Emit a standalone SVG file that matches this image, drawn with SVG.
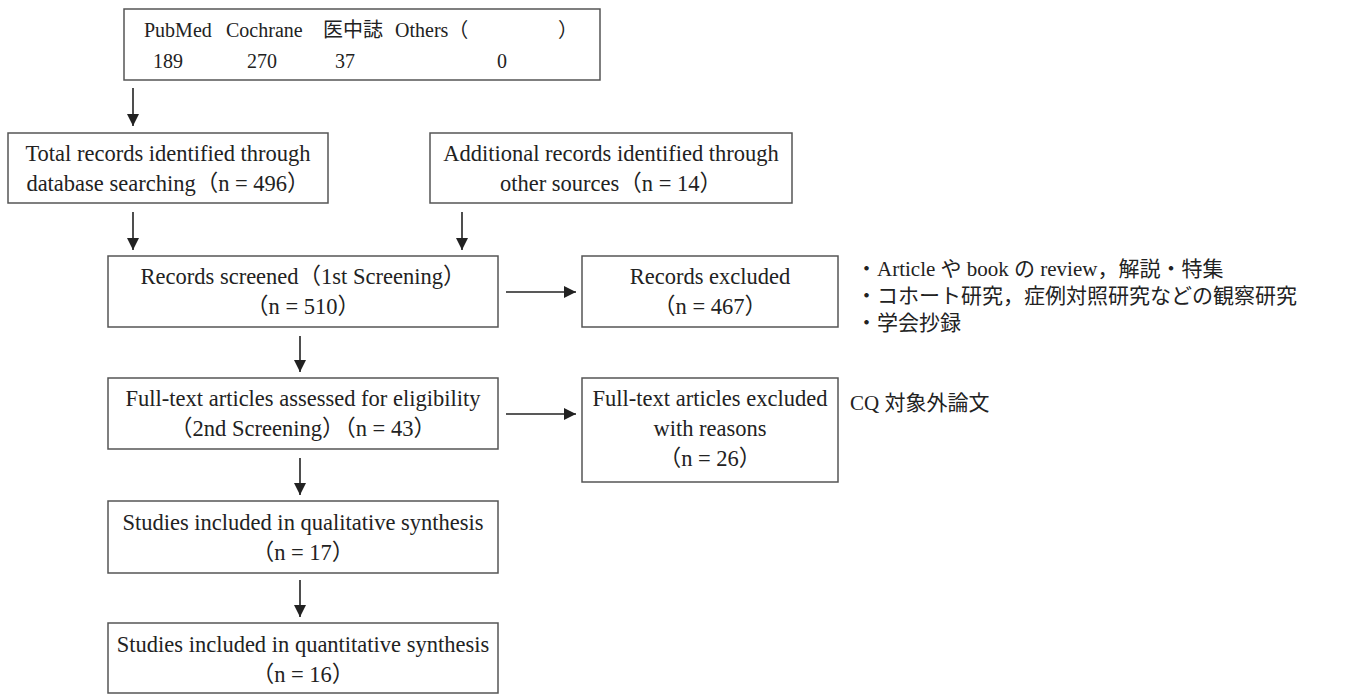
<svg xmlns="http://www.w3.org/2000/svg" width="1346" height="695" viewBox="0 0 1346 695">
<style>
.box{fill:#fff;stroke:#555;stroke-width:1.5}
.t{font-family:"Liberation Serif","Noto Sans CJK JP",serif;font-size:22.5px;fill:#222;text-anchor:middle}
.s{font-family:"Liberation Serif","Noto Sans CJK JP",serif;font-size:20px;fill:#222}
.n{font-family:"Liberation Serif","Noto Sans CJK JP",sans-serif;font-size:21px;fill:#222}
.c{stroke:#222;stroke-width:1.6;fill:none;marker-end:url(#ah)}
</style>
<defs>
<marker id="ah" viewBox="0 0 12 12" refX="12" refY="6" markerWidth="12" markerHeight="12" markerUnits="userSpaceOnUse" orient="auto">
<path d="M0,0 L12,6 L0,12 Z" fill="#222"/>
</marker>
</defs>
<rect width="1346" height="695" fill="#fff"/>
<g id="sources">
<rect class="box" x="124" y="9" width="476" height="71"/>
<text class="s" x="144" y="37">PubMed</text>
<text class="s" x="226" y="37">Cochrane</text>
<text class="s" x="323" y="37">医中誌</text>
<text class="s" x="395" y="37">Others（</text>
<text class="s" x="558" y="37">）</text>
<text class="s" x="168" y="68" text-anchor="middle">189</text>
<text class="s" x="262" y="68" text-anchor="middle">270</text>
<text class="s" x="345" y="68" text-anchor="middle">37</text>
<text class="s" x="502" y="68" text-anchor="middle">0</text>
</g>
<g id="total">
<rect class="box" x="8" y="133" width="320" height="70"/>
<text class="t" x="168" y="161">Total records identified through</text>
<text class="t" x="168" y="191">database searching（n = 496）</text>
</g>
<g id="additional">
<rect class="box" x="430" y="133" width="362" height="70"/>
<text class="t" x="611" y="161">Additional records identified through</text>
<text class="t" x="611" y="191">other sources（n = 14）</text>
</g>
<g id="screened">
<rect class="box" x="108" y="256" width="390" height="71"/>
<text class="t" x="303" y="284">Records screened（1st Screening）</text>
<text class="t" x="303" y="314">（n = 510）</text>
</g>
<g id="excluded">
<rect class="box" x="582" y="256" width="256" height="71"/>
<text class="t" x="710" y="284">Records excluded</text>
<text class="t" x="710" y="314">（n = 467）</text>
</g>
<g id="excluded-notes">
<text class="n" x="856" y="276">・Article や book の review，解説・特集</text>
<text class="n" x="856" y="303">・コホート研究，症例対照研究などの観察研究</text>
<text class="n" x="856" y="330">・学会抄録</text>
</g>
<g id="fulltext">
<rect class="box" x="108" y="378" width="390" height="71"/>
<text class="t" x="303" y="406">Full-text articles assessed for eligibility</text>
<text class="t" x="303" y="436">（2nd Screening）（n = 43）</text>
</g>
<g id="fulltext-excluded">
<rect class="box" x="582" y="378" width="256" height="104"/>
<text class="t" x="710" y="406">Full-text articles excluded</text>
<text class="t" x="710" y="436">with reasons</text>
<text class="t" x="710" y="466">（n = 26）</text>
</g>
<g id="cq-note">
<text class="n" x="850" y="410">CQ 対象外論文</text>
</g>
<g id="qualitative">
<rect class="box" x="108" y="501" width="390" height="72"/>
<text class="t" x="303" y="530">Studies included in qualitative synthesis</text>
<text class="t" x="303" y="560">（n = 17）</text>
</g>
<g id="quantitative">
<rect class="box" x="108" y="623" width="390" height="70"/>
<text class="t" x="303" y="652">Studies included in quantitative synthesis</text>
<text class="t" x="303" y="682">（n = 16）</text>
</g>
<g id="connectors">
<line class="c" x1="133" y1="88" x2="133" y2="126"/>
<line class="c" x1="133" y1="212" x2="133" y2="250"/>
<line class="c" x1="462" y1="212" x2="462" y2="250"/>
<line class="c" x1="506" y1="292" x2="576" y2="292"/>
<line class="c" x1="300" y1="336" x2="300" y2="372"/>
<line class="c" x1="506" y1="414" x2="576" y2="414"/>
<line class="c" x1="300" y1="458" x2="300" y2="495"/>
<line class="c" x1="300" y1="580" x2="300" y2="617"/>
</g>
</svg>
